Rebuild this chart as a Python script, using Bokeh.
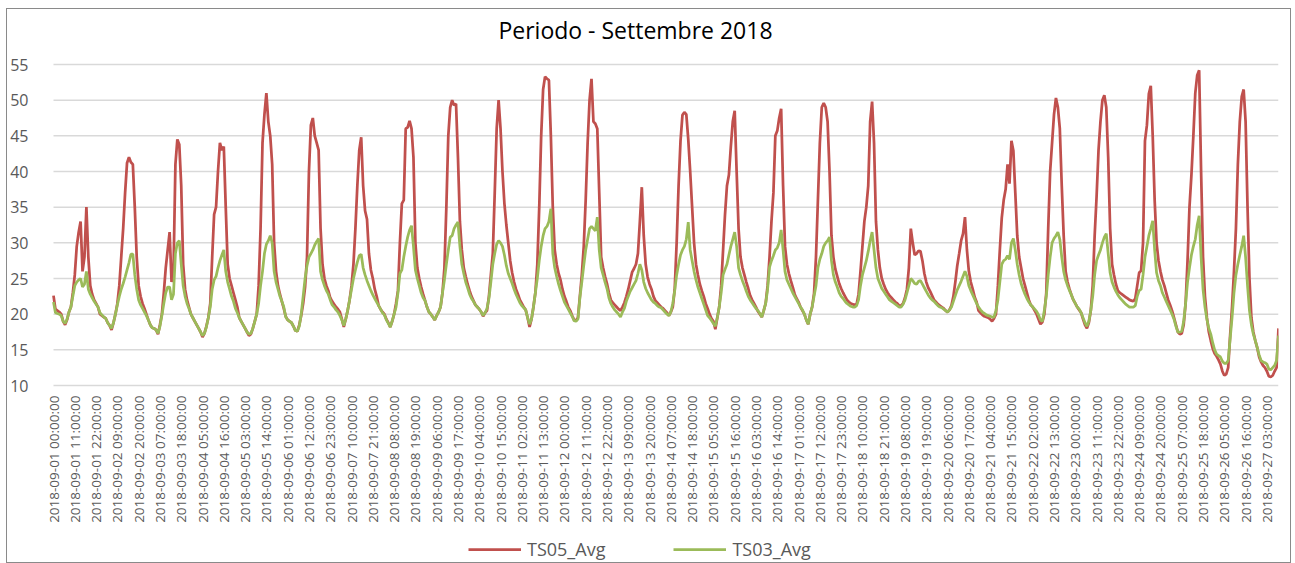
import math
import pandas as pd
from bokeh.plotting import figure
from bokeh.layouts import column
from bokeh.core.properties import value
from bokeh.models import (FixedTicker, Legend, LegendItem, ColumnDataSource,
                          Range1d, Label)
from bokeh.embed import file_html
from bokeh.resources import INLINE

# ---------------- data (hourly values) ----------------
start_time = "2018-09-01 00:00:00"
chart_title = "Periodo - Settembre 2018"

ts05_avg = [
    # 09-01
    22.6, 20.7, 20.5, 20.3, 20.0, 19.0, 18.5, 19.2, 20.3, 21.0, 23.0, 25.5, 29.5, 31.5, 33.0, 26.0, 28.0, 35.0, 28.0, 24.0, 22.8, 22.0, 21.5, 21.0,
    # 09-02
    20.0, 19.8, 19.6, 19.4, 18.8, 18.4, 17.8, 18.8, 20.0, 21.5, 24.0, 28.0, 32.0, 37.0, 41.2, 42.0, 41.3, 41.0, 35.0, 28.0, 24.0, 22.5, 21.5, 20.8,
    # 09-03
    20.0, 19.2, 18.5, 18.1, 18.0, 17.8, 17.2, 18.5, 20.0, 23.0, 26.5, 29.0, 31.5, 24.5, 26.0, 41.0, 44.5, 43.8, 38.0, 27.0, 23.5, 22.0, 21.0, 20.0,
    # 09-04
    19.5, 19.0, 18.5, 18.0, 17.5, 16.8, 17.3, 18.3, 19.5, 21.5, 28.0, 34.0, 35.0, 40.0, 44.0, 43.0, 43.5, 35.0, 27.0, 25.0, 24.0, 23.0, 22.0, 21.0,
    # 09-05
    19.5, 19.0, 18.5, 18.0, 17.5, 17.0, 17.2, 18.0, 19.0, 20.0, 24.0, 32.0, 44.0, 48.0, 51.0, 47.0, 45.0, 41.0, 30.0, 26.0, 24.0, 22.8, 21.8, 20.8,
    # 09-06
    19.7, 19.2, 19.0, 18.8, 18.3, 17.7, 17.6, 18.5, 19.8, 21.5, 23.8, 28.0, 40.0, 46.5, 47.5, 45.0, 44.0, 43.0, 32.0, 27.0, 25.0, 24.0, 23.3, 22.3,
    # 09-07
    21.8, 21.4, 21.0, 20.7, 20.3, 19.3, 18.2, 19.3, 20.5, 22.0, 24.0, 27.0, 32.0, 38.0, 43.0, 44.8, 38.0, 34.5, 33.3, 28.5, 26.2, 25.0, 23.5, 22.5,
    # 09-08
    21.2, 20.7, 20.3, 20.0, 19.3, 18.8, 18.2, 19.0, 20.0, 21.5, 23.3, 30.0, 35.5, 36.0, 46.0, 46.2, 47.1, 46.0, 42.0, 30.0, 26.5, 25.0, 23.8, 22.8,
    # 09-09
    21.9, 21.0, 20.3, 20.0, 19.6, 19.2, 19.8, 20.3, 21.0, 23.0, 26.5, 35.0, 45.0, 49.0, 50.0, 49.3, 49.5, 42.0, 33.0, 29.0, 26.5, 25.3, 24.2, 23.3,
    # 09-10
    22.5, 21.9, 21.3, 21.0, 20.7, 20.3, 19.7, 20.2, 20.5, 22.5, 25.5, 28.5, 37.0, 46.0, 50.0, 46.0, 40.0, 35.5, 32.5, 30.0, 27.5, 25.8, 24.5, 23.5,
    # 09-11
    22.8, 22.0, 21.5, 21.0, 20.6, 19.5, 18.2, 19.3, 21.0, 23.0, 27.0, 35.0, 45.0, 51.5, 53.3, 53.0, 52.8, 45.0, 35.0, 29.0, 27.0, 25.7, 24.8, 23.5,
    # 09-12
    22.5, 21.8, 21.0, 20.5, 19.8, 19.2, 19.1, 19.5, 22.5, 25.5, 29.5, 36.0, 44.0, 50.0, 53.0, 47.0, 46.7, 46.0, 37.0, 28.0, 26.5, 25.3, 24.3, 23.0,
    # 09-13
    22.0, 21.6, 21.3, 21.0, 20.7, 20.5, 21.0, 21.6, 22.5, 23.5, 24.7, 25.9, 26.4, 27.0, 28.5, 33.0, 37.8, 31.0, 27.0, 25.2, 24.2, 23.5, 22.5, 21.9,
    # 09-14
    21.6, 21.3, 21.0, 20.8, 20.5, 20.2, 19.8, 20.3, 21.0, 23.5, 30.0, 38.0, 44.3, 47.9, 48.3, 48.0, 44.5, 40.0, 35.0, 30.0, 27.0, 25.5, 24.2, 23.3,
    # 09-15
    22.5, 21.5, 20.8, 20.0, 19.4, 19.0, 17.9, 19.5, 21.0, 24.0, 29.0, 34.0, 38.0, 39.5, 43.5, 47.0, 48.5, 40.0, 32.0, 28.0, 26.5, 25.5, 24.5, 23.6,
    # 09-16
    22.6, 22.0, 21.5, 21.0, 20.4, 20.0, 19.6, 20.5, 21.5, 24.0, 28.0, 33.0, 37.0, 45.0, 45.7, 47.5, 48.8, 38.0, 29.5, 27.0, 25.7, 24.7, 23.8, 22.8,
    # 09-17
    22.2, 21.7, 21.0, 20.5, 20.0, 19.2, 18.6, 20.0, 21.0, 22.9, 28.0, 36.0, 44.0, 49.0, 49.6, 49.0, 47.0, 40.0, 31.0, 28.0, 26.3, 25.3, 24.3, 23.6,
    # 09-18
    23.0, 22.5, 22.0, 21.7, 21.5, 21.4, 21.3, 21.4, 22.8, 26.0, 29.5, 33.0, 35.0, 38.0, 47.0, 49.8, 44.0, 33.0, 29.0, 26.5, 25.0, 24.2, 23.5, 23.0,
    # 09-19
    22.6, 22.3, 22.0, 21.7, 21.5, 21.2, 21.2, 21.5, 22.3, 23.5, 26.5, 32.0, 30.0, 28.3, 28.5, 28.9, 28.8, 27.5, 25.7, 24.5, 23.7, 23.2, 22.6, 22.0,
    # 09-20
    21.7, 21.4, 21.2, 21.0, 20.8, 20.5, 20.3, 20.6, 21.2, 22.5, 24.5, 26.8, 28.5, 30.3, 31.3, 33.6, 29.0, 26.0, 24.5, 23.5, 22.4, 21.7, 20.5, 20.2,
    # 09-21
    19.9, 19.7, 19.6, 19.5, 19.3, 19.0, 19.4, 20.0, 24.0, 29.0, 33.5, 36.0, 37.5, 41.0, 38.3, 44.3, 42.9, 37.0, 31.0, 28.0, 26.5, 25.0, 24.0, 23.0,
    # 09-22
    22.0, 21.3, 21.0, 20.5, 20.0, 19.3, 18.6, 18.9, 20.0, 23.0, 32.0, 40.0, 44.0, 48.0, 50.3, 49.0, 46.0, 38.0, 31.0, 26.0, 24.5, 23.5, 22.7, 22.0,
    # 09-23
    21.5, 21.0, 20.6, 20.2, 19.3, 18.5, 18.0, 18.8, 20.5, 24.0, 31.0, 36.5, 43.0, 47.0, 50.0, 50.7, 49.0, 42.0, 32.0, 27.0, 25.5, 24.2, 23.3, 23.0,
    # 09-24
    22.8, 22.6, 22.4, 22.2, 22.0, 21.9, 21.8, 22.2, 24.0, 25.8, 26.1, 30.0, 44.3, 46.5, 50.9, 52.0, 45.0, 36.0, 30.0, 27.5, 26.0, 24.8, 24.0, 23.0,
    # 09-25
    22.0, 21.3, 20.5, 19.5, 18.5, 17.5, 17.2, 17.3, 18.5, 21.5, 27.5, 35.0, 39.5, 45.0, 51.0, 53.5, 54.2, 40.0, 28.0, 22.5, 19.5, 17.5, 16.3, 15.2,
    # 09-26
    14.5, 14.1, 13.6, 13.0, 12.0, 11.4, 11.6, 12.5, 17.0, 21.0, 26.0, 32.0, 41.0, 47.0, 50.5, 51.5, 47.0, 35.0, 25.0, 19.5, 17.5, 16.3, 15.3, 14.0,
    # 09-27
    13.3, 12.8, 12.5, 12.0, 11.3, 11.2, 11.4, 12.0, 12.5, 18.0,
]

ts03_avg = [
    # 09-01
    21.7, 20.2, 20.1, 20.0, 19.8, 19.0, 18.7, 19.3, 20.3, 21.0, 22.5, 24.0, 24.5, 24.8, 25.0, 23.8, 24.2, 26.0, 23.5, 22.8, 22.3, 21.8, 21.4, 21.0,
    # 09-02
    20.2, 19.9, 19.6, 19.4, 18.8, 18.4, 18.0, 18.8, 20.0, 21.3, 22.5, 23.5, 24.3, 25.2, 26.2, 27.2, 28.4, 28.4, 25.5, 23.5, 22.0, 21.3, 20.8, 20.3,
    # 09-03
    19.8, 19.2, 18.5, 18.1, 18.0, 17.8, 17.3, 18.3, 19.8, 21.5, 23.0, 23.8, 23.8, 22.0, 22.8, 28.5, 30.0, 30.3, 27.0, 24.0, 22.5, 21.5, 20.8, 20.0,
    # 09-04
    19.5, 19.0, 18.5, 18.0, 17.5, 17.0, 17.3, 18.2, 19.5, 21.0, 23.5, 24.8, 25.3, 26.5, 27.5, 28.3, 29.0, 26.0, 24.5, 23.5, 22.5, 21.8, 20.8, 20.2,
    # 09-05
    19.5, 19.0, 18.5, 18.0, 17.5, 17.2, 17.3, 18.0, 19.0, 20.0, 21.5, 24.0, 26.0, 28.5, 29.8, 30.3, 31.0, 30.0, 26.0, 24.5, 23.5, 22.5, 21.8, 21.0,
    # 09-06
    19.6, 19.2, 19.0, 18.8, 18.3, 17.7, 17.6, 18.3, 20.0, 22.5, 25.0, 26.8, 28.0, 28.5, 29.0, 29.7, 30.2, 30.6, 26.0, 24.8, 24.0, 23.3, 22.8, 22.0,
    # 09-07
    21.3, 21.0, 20.6, 20.3, 19.8, 19.2, 18.4, 19.3, 20.5, 22.0, 23.5, 25.0, 26.2, 27.3, 28.2, 28.4, 26.5, 25.5, 24.7, 24.0, 23.3, 22.7, 22.2, 21.7,
    # 09-08
    21.2, 20.7, 20.2, 19.9, 19.2, 18.7, 18.2, 19.0, 20.0, 21.0, 23.0, 25.7, 26.2, 28.0, 29.5, 30.8, 31.8, 32.4, 29.5, 26.2, 25.0, 24.0, 23.0, 22.3,
    # 09-09
    21.9, 21.0, 20.3, 20.0, 19.6, 19.2, 19.8, 20.3, 21.0, 23.0, 24.8, 27.0, 29.0, 30.8, 31.0, 32.0, 32.5, 32.9, 29.5, 27.0, 25.7, 24.5, 23.7, 22.8,
    # 09-10
    22.2, 21.8, 21.3, 21.0, 20.7, 20.3, 19.8, 20.2, 20.8, 22.2, 24.5, 27.0, 28.5, 29.8, 30.3, 30.0, 29.5, 28.3, 26.8, 25.7, 25.0, 24.3, 23.5, 22.8,
    # 09-11
    22.2, 21.6, 21.2, 20.9, 20.6, 19.5, 18.6, 19.3, 21.0, 23.0, 25.0, 27.5, 29.5, 31.0, 32.0, 32.3, 33.0, 34.8, 28.5, 26.5, 25.3, 24.2, 23.3, 22.5,
    # 09-12
    21.7, 21.2, 20.7, 20.2, 19.7, 19.1, 19.0, 19.3, 22.3, 24.5, 26.8, 29.0, 30.5, 32.0, 32.3, 32.0, 31.7, 33.6, 29.0, 26.5, 25.5, 24.5, 23.6, 22.3,
    # 09-13
    21.5, 21.0, 20.6, 20.3, 20.0, 19.6, 20.3, 20.8, 21.8, 22.5, 23.2, 23.7, 24.2, 24.7, 25.7, 27.0, 26.2, 24.5, 23.6, 23.0, 22.5, 22.0, 21.7, 21.5,
    # 09-14
    21.2, 21.0, 20.9, 20.6, 20.3, 20.0, 19.8, 20.3, 21.5, 23.3, 25.5, 27.0, 28.3, 29.0, 29.5, 30.5, 32.9, 29.0, 27.5, 26.0, 24.8, 23.8, 23.0, 22.2,
    # 09-15
    21.4, 20.6, 19.8, 19.5, 19.1, 18.7, 18.3, 19.5, 21.0, 23.0, 25.5, 26.3, 27.0, 28.3, 29.5, 30.5, 31.5, 29.5, 26.5, 25.5, 24.7, 24.0, 23.2, 22.5,
    # 09-16
    22.0, 21.6, 21.2, 20.8, 20.5, 20.1, 19.6, 20.5, 21.5, 23.5, 26.6, 27.5, 28.2, 29.0, 29.3, 30.0, 31.8, 29.0, 26.0, 24.8, 24.2, 23.6, 23.0, 22.5,
    # 09-17
    22.0, 21.5, 21.0, 20.6, 20.0, 19.2, 18.6, 20.0, 21.0, 22.5, 24.0, 26.5, 27.7, 28.5, 29.5, 30.0, 30.3, 30.8, 27.5, 25.5, 24.5, 23.8, 23.0, 22.5,
    # 09-18
    22.2, 21.8, 21.5, 21.3, 21.1, 21.0, 21.0, 21.2, 22.0, 24.0, 25.5, 26.5, 27.5, 28.8, 30.3, 31.5, 29.0, 26.5, 25.0, 24.3, 23.6, 23.2, 22.8, 22.4,
    # 09-19
    22.0, 21.8, 21.6, 21.4, 21.2, 21.0, 21.0, 21.4, 22.0, 23.0, 24.0, 25.0, 24.7, 24.3, 24.2, 24.6, 24.7, 24.2, 23.7, 23.2, 22.7, 22.3, 22.0, 21.8,
    # 09-20
    21.5, 21.2, 21.0, 20.9, 20.7, 20.5, 20.3, 20.6, 21.0, 21.8, 22.6, 23.4, 24.0, 24.6, 25.3, 26.0, 25.3, 24.0, 23.3, 22.7, 22.1, 21.5, 21.0, 20.6,
    # 09-21
    20.3, 20.1, 19.9, 19.8, 19.7, 19.6, 19.6, 20.5, 22.0, 24.5, 27.0, 27.5, 27.7, 28.2, 27.7, 30.0, 30.6, 29.0, 27.0, 25.5, 24.3, 23.5, 22.8, 22.2,
    # 09-22
    21.7, 21.3, 21.0, 20.7, 20.4, 19.9, 19.2, 19.0, 20.5, 22.5, 25.5, 28.0, 30.0, 30.6, 31.0, 31.5, 30.5, 28.0, 26.0, 24.8, 24.0, 23.3, 22.7, 22.0,
    # 09-23
    21.5, 21.0, 20.7, 20.2, 19.5, 18.8, 18.3, 19.0, 20.5, 22.5, 25.5, 27.5, 28.3, 29.0, 30.0, 30.8, 31.3, 28.5, 25.8, 24.5, 23.8, 23.2, 22.7, 22.3,
    # 09-24
    22.0, 21.7, 21.4, 21.2, 21.0, 21.0, 21.0, 21.2, 22.5, 23.3, 23.5, 25.5, 28.0, 29.5, 31.0, 32.0, 33.1, 29.0, 25.8, 24.7, 24.0, 23.0, 22.4, 21.8,
    # 09-25
    21.2, 20.6, 20.0, 19.3, 18.3, 17.5, 17.5, 17.6, 19.0, 21.5, 24.5, 26.5, 28.3, 29.5, 30.5, 32.5, 33.8, 28.0, 23.5, 21.0, 19.3, 18.0, 17.2, 16.0,
    # 09-26
    15.0, 14.4, 14.2, 14.0, 13.4, 13.1, 13.1, 13.5, 16.5, 19.5, 23.0, 25.5, 27.0, 28.3, 29.5, 31.0, 28.0, 24.0, 20.5, 18.5, 17.2, 16.3, 15.3, 14.3,
    # 09-27
    13.5, 13.3, 13.2, 13.0, 12.3, 12.2, 12.5, 12.8, 13.5, 17.0,
]

assert len(ts05_avg) == len(ts03_avg), (len(ts05_avg), len(ts03_avg))

y_ticks = [10, 15, 20, 25, 30, 35, 40, 45, 50, 55]
y_min, y_max = 10, 55
label_every = 11  # one category label every 11 hours

n = len(ts05_avg)
timestamps = pd.date_range(start_time, periods=n, freq="h")
hour_index = list(range(n))
tick_index = list(range(0, n, label_every))
tick_labels = [timestamps[i].strftime("%Y-%m-%d %H:%M:%S") for i in tick_index]

source = ColumnDataSource(data=dict(x=hour_index, ts05=ts05_avg, ts03=ts03_avg))
label_source = ColumnDataSource(data=dict(x=tick_index,
                                          y=[y_min] * len(tick_index),
                                          text=tick_labels))
grid_source = ColumnDataSource(data=dict(x0=[0] * len(y_ticks),
                                         x1=[n - 1] * len(y_ticks),
                                         y=y_ticks))

FONT = "Open Sans"
GREY = "#595959"

# plot area: value axis 10..55 spans 321 px over 1225 px of categories; the
# frame also holds the title band above (55 px), the category-label/legend
# band below (177 px) and a small margin on the left for the first label
PLOT_W, PLOT_H = 1225, 321
TOP_BAND, BOTTOM_BAND, LEFT_PAD = 55, 177, 8
FRAME_W = PLOT_W + LEFT_PAD
FRAME_H = TOP_BAND + PLOT_H + BOTTOM_BAND
px_per_unit = PLOT_H / (y_max - y_min)
px_per_hour = PLOT_W / (n - 1)
x_range = Range1d(-LEFT_PAD / px_per_hour, n - 1)
y_range = Range1d(y_min - BOTTOM_BAND / px_per_unit, y_max + TOP_BAND / px_per_unit)

p = figure(frame_width=FRAME_W, frame_height=FRAME_H, output_backend="svg",
           toolbar_location=None, x_axis_location=None,
           x_range=x_range, y_range=y_range,
           min_border_left=45 - LEFT_PAD, min_border_right=12, min_border_top=0,
           min_border_bottom=0)

p.outline_line_color = None
p.xgrid.grid_line_color = None
p.ygrid.grid_line_color = None

p.yaxis.ticker = FixedTicker(ticks=y_ticks)
p.yaxis.axis_line_color = None
p.yaxis.major_tick_line_color = None
p.yaxis.minor_tick_line_color = None
p.yaxis.major_label_standoff = 19 - LEFT_PAD
p.yaxis.major_label_text_font = FONT
p.yaxis.major_label_text_font_size = "16px"
p.yaxis.major_label_text_color = GREY

# horizontal gridlines across the category span
p.segment(x0="x0", y0="y", x1="x1", y1="y", source=grid_source,
          line_color="#d9d9d9", line_width=1.5)

# title (screen px from the frame's bottom-left)
p.add_layout(Label(x=634 - 52 + LEFT_PAD, y=FRAME_H - 20,
                   x_units="screen", y_units="screen",
                   text=chart_title, text_align="center", text_baseline="middle",
                   text_font=FONT, text_font_size="23px",
                   text_color="#000000"))

# category labels, rotated, hanging below the 10-line
p.text(x="x", y="y", text="text", source=label_source, angle=math.pi / 2,
       text_align="right", text_baseline="middle", y_offset=10,
       text_font=value(FONT), text_font_size="13.5px", text_color=GREY)

r05 = p.line("x", "ts05", source=source, line_color="#c0504d", line_width=2.75)
r03 = p.line("x", "ts03", source=source, line_color="#9bbb59", line_width=2.75)

legend = Legend(items=[LegendItem(label="TS05_Avg", renderers=[r05]),
                       LegendItem(label="TS03_Avg", renderers=[r03])],
                orientation="horizontal", location=(415 + LEFT_PAD, 1),
                glyph_width=53, glyph_height=18, label_standoff=6, spacing=68,
                label_text_font=FONT, label_text_font_size="18px",
                label_text_color=GREY, border_line_color=None,
                background_fill_alpha=0, padding=0, margin=0)
p.add_layout(legend, "center")

layout = column(p, styles={"border": "1px solid #8a8a8a",
                           "margin-left": "6px", "margin-top": "8px"})

open("out.html", "w").write(file_html(layout, INLINE))
